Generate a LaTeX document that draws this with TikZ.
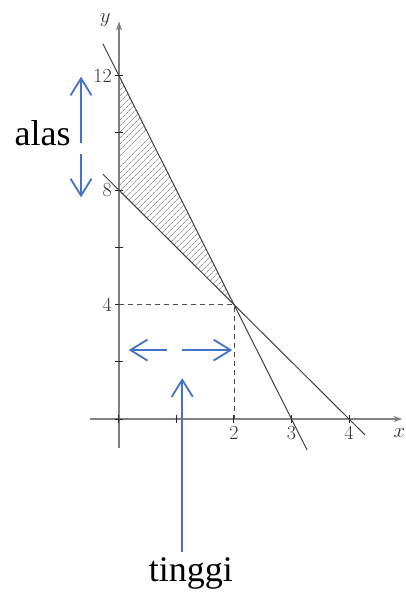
\documentclass[tikz,border=0pt]{standalone}
\usepackage{fontspec}
\newfontfamily\labelfont{Liberation Serif}
\usetikzlibrary{arrows.meta,patterns.meta}
\definecolor{arrowblue}{RGB}{68,114,196}

\begin{document}
\begin{tikzpicture}[x=57.5pt, y=28.6pt]

	% Styles for axes, graphs and the blue markers
	\tikzstyle{axis} = [draw=black!50, line width=1.1pt]
	\tikzstyle{tick} = [draw=black!85, line width=1pt]
	\tikzstyle{graph} = [draw=black!75, line width=1pt]
	\tikzstyle{guide} = [draw=black!70, line width=0.9pt, dash pattern=on 5pt off 4pt]
	\tikzstyle{ticklabel} = [font=\fontsize{20}{22}\selectfont, text=black!80, inner sep=1pt]
	\tikzstyle{marker} = [draw=arrowblue, line width=1.8pt, -{Straight Barb[length=17pt, width=21pt]}]
	\tikzstyle{caption} = [font=\labelfont\fontsize{36}{40}\selectfont, inner sep=0pt]

	\useasboundingbox (-119pt,-176pt) rectangle (287pt,419pt);

	% Shaded triangle between the two lines
	\fill[pattern={Lines[angle=45, distance=4pt, line width=0.5pt]}, pattern color=black!60]
		(0,12) -- (2,4) -- (0,8) -- cycle;

	% Axes
	\draw[axis, -{Stealth[length=9pt, width=6pt]}] (-0.5,0) -- (4.93,0);
	\draw[axis, -{Stealth[length=9pt, width=6pt]}] (0,-1.0) -- (0,13.9);
	\node[ticklabel, anchor=east, inner sep=0.5pt] (xname) at (4.99,-0.5) {$x$};
	\node[ticklabel] (yname) at (-0.24,13.95) {$y$};

	% Ticks
	\foreach \t in {0,2,...,12}
		\draw[tick] (0,\t) ++(-4pt,0) -- ++(8pt,0);
	\foreach \t in {0,...,4}
		\draw[tick] (\t,0) ++(0,-4pt) -- ++(0,8pt);

	% Tick labels
	\node[ticklabel, anchor=east, xshift=-6pt] (y12) at (0,12) {12};
	\node[ticklabel, anchor=east, xshift=-6pt] (y8) at (0,8) {8};
	\node[ticklabel, anchor=east, xshift=-6pt] (y4) at (0,4) {4};
	\node[ticklabel, anchor=north, yshift=-6pt] (x2) at (2,0) {2};
	\node[ticklabel, anchor=north, yshift=-6pt] (x3) at (3,0) {3};
	\node[ticklabel, anchor=north, yshift=-6pt] (x4) at (4,0) {4};

	% The two lines
	\draw[graph] (-0.28,13.12) -- (3.27,-1.08);
	\draw[graph] (-0.28,8.56) -- (4.28,-0.56);

	% Dashed guides to the intersection
	\draw[guide] (0,4) -- (2,4) -- (2,0);

	% Labels
	\node[caption, anchor=base] (alas) at (-1.33,9.58) {alas};
	\node[caption, anchor=base] (tinggi) at (1.25,-5.68) {tinggi};

	% End points of the blue arrows
	\coordinate (alastop) at (-0.66,9.65);
	\coordinate (alas12) at (-0.66,11.97);
	\coordinate (alasbot) at (-0.66,9.27);
	\coordinate (alas8) at (-0.66,7.75);
	\coordinate (leftstart) at (0.83,2.41);
	\coordinate (leftend) at (0.17,2.41);
	\coordinate (rightstart) at (1.10,2.41);
	\coordinate (rightend) at (1.97,2.41);
	\coordinate (tinggibot) at (1.10,-4.66);
	\coordinate (tinggitop) at (1.10,1.43);

	% Blue arrows
	\draw[marker] (alastop) -- (alas12);
	\draw[marker] (alasbot) -- (alas8);
	\draw[marker] (leftstart) -- (leftend);
	\draw[marker] (rightstart) -- (rightend);
	\draw[marker] (tinggibot) -- (tinggitop);

\end{tikzpicture}
\end{document}
